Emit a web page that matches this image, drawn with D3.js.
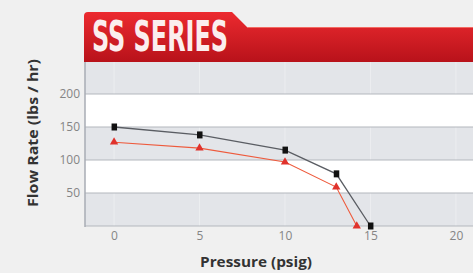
<!DOCTYPE html>
<html>
<head>
<meta charset="utf-8">
<script src="https://cdn.jsdelivr.net/npm/d3@7"></script>
<style>
  html, body { margin: 0; padding: 0; background: #f0f0f0; }
  svg { display: block; }
</style>
</head>
<body>
<div id="chart"></div>
<script>
// Data
var pressure = [0, 5, 10, 13, 15];
var blackFlow = [150, 138, 115, 79, 0];
var redPressure = [0, 5, 10, 13, 14.2];
var redFlow = [127, 118, 97, 59, 0];
var yTicks = [50, 100, 150, 200];
var xTicks = [0, 5, 10, 15, 20];
var bands = [[0, 50], [100, 150], [200, 250]];

var width = 473, height = 273;
var plot = { left: 85, right: 473, top: 62, bottom: 226 };

var svg = d3.select("#chart").append("svg")
    .attr("width", width)
    .attr("height", height);

var defs = svg.append("defs");
var grad = defs.append("linearGradient")
    .attr("id", "redGrad")
    .attr("x1", 0).attr("y1", 0).attr("x2", 0).attr("y2", 1);
grad.append("stop").attr("offset", "0%").attr("stop-color", "#ec2a2f");
grad.append("stop").attr("offset", "100%").attr("stop-color", "#b8121a");

// background
svg.append("rect").attr("width", width).attr("height", height).attr("fill", "#f0f0f0");

// Scales
var x = d3.scaleLinear().domain([-1.7, 21]).range([plot.left, plot.right]);
var y = d3.scaleLinear().domain([0, 250]).range([plot.bottom, plot.top - 1]);

// Plot area: white with grey bands
svg.append("rect")
    .attr("x", plot.left).attr("y", plot.top)
    .attr("width", plot.right - plot.left).attr("height", plot.bottom - plot.top)
    .attr("fill", "#ffffff");

svg.append("g").selectAll("rect")
    .data(bands)
    .join("rect")
    .attr("x", plot.left)
    .attr("y", function(d) { return Math.max(plot.top, y(d[1])); })
    .attr("width", plot.right - plot.left)
    .attr("height", function(d) { return y(d[0]) - Math.max(plot.top, y(d[1])); })
    .attr("fill", "#e3e5e9");

// faint vertical lines in grey bands
svg.append("g").selectAll("line")
    .data(xTicks)
    .join("line")
    .attr("x1", function(d) { return x(d); }).attr("x2", function(d) { return x(d); })
    .attr("y1", plot.top).attr("y2", plot.bottom)
    .attr("stroke", "#ffffff").attr("stroke-opacity", 0.35);

// Horizontal gridlines
svg.append("g").selectAll("line")
    .data(yTicks.concat([0]))
    .join("line")
    .attr("x1", plot.left).attr("x2", plot.right)
    .attr("y1", function(d) { return y(d); }).attr("y2", function(d) { return y(d); })
    .attr("stroke", "#b4b7bd").attr("stroke-width", 1.2);

// left axis line
svg.append("line")
    .attr("x1", plot.left).attr("x2", plot.left)
    .attr("y1", plot.top).attr("y2", plot.bottom + 1)
    .attr("stroke", "#a9adb4").attr("stroke-width", 1.5);

// Y axis
var yAxis = d3.axisLeft(y).tickValues(yTicks).tickSize(0).tickPadding(5);
var yG = svg.append("g").attr("transform", "translate(" + plot.left + ",0)").call(yAxis);
yG.select(".domain").remove();
yG.selectAll("text")
    .attr("fill", "#858585")
    .style("font-family", "'Open Sans', sans-serif")
    .style("font-size", "12px");

// X axis
var xAxis = d3.axisBottom(x).tickValues(xTicks).tickSize(0).tickPadding(5);
var xG = svg.append("g").attr("transform", "translate(0," + plot.bottom + ")").call(xAxis);
xG.select(".domain").remove();
xG.selectAll("text")
    .attr("fill", "#858585")
    .style("font-family", "'Open Sans', sans-serif")
    .style("font-size", "12px");

// Axis titles
svg.append("text")
    .attr("transform", "translate(38,133) rotate(-90)")
    .attr("text-anchor", "middle")
    .attr("textLength", 148)
    .attr("lengthAdjust", "spacingAndGlyphs")
    .attr("fill", "#333333")
    .style("font-family", "'Open Sans', sans-serif")
    .style("font-weight", "bold")
    .style("font-size", "13.5px")
    .text("Flow Rate (lbs / hr)");

svg.append("text")
    .attr("x", 256).attr("y", 267)
    .attr("text-anchor", "middle")
    .attr("textLength", 112)
    .attr("lengthAdjust", "spacingAndGlyphs")
    .attr("fill", "#333333")
    .style("font-family", "'Open Sans', sans-serif")
    .style("font-weight", "bold")
    .style("font-size", "13.5px")
    .text("Pressure (psig)");

// Series
var line = d3.line()
    .x(function(d) { return x(d[0]); })
    .y(function(d) { return y(d[1]); });

var blackData = d3.zip(pressure, blackFlow);
var redData = d3.zip(redPressure, redFlow);

svg.append("path")
    .datum(blackData)
    .attr("d", line)
    .attr("fill", "none")
    .attr("stroke", "#5a5d63")
    .attr("stroke-width", 1.3);

svg.append("path")
    .datum(redData)
    .attr("d", line)
    .attr("fill", "none")
    .attr("stroke", "#ee5a3c")
    .attr("stroke-width", 1.1);

svg.append("g").selectAll("path")
    .data(redData)
    .join("path")
    .attr("transform", function(d) { return "translate(" + x(d[0]) + "," + y(d[1]) + ")"; })
    .attr("d", d3.symbol(d3.symbolTriangle, 30))
    .attr("fill", "#e0322c");

svg.append("g").selectAll("rect")
    .data(blackData)
    .join("rect")
    .attr("x", function(d) { return x(d[0]) - 2.5; })
    .attr("y", function(d) { return y(d[1]) - 3.5; })
    .attr("width", 5.5).attr("height", 7)
    .attr("fill", "#111111");

// Header: red band with tab
var header = svg.append("g");
header.append("path")
    .attr("d", "M84,62 L84,16 Q84,12 88,12 L232,12 L247,27 L473,27 L473,62 Z")
    .attr("fill", "url(#redGrad)");
header.append("line")
    .attr("x1", 247).attr("x2", 473).attr("y1", 27.5).attr("y2", 27.5)
    .attr("stroke", "#f36a62").attr("stroke-width", 1);

header.append("text")
    .attr("x", 92).attr("y", 51)
    .attr("textLength", 136)
    .attr("lengthAdjust", "spacingAndGlyphs")
    .attr("fill", "#fbeeee")
    .style("font-family", "'DejaVu Sans Condensed', 'Liberation Sans Narrow', sans-serif")
    .style("font-weight", "bold")
    .style("font-size", "42px")
    .text("SS SERIES");
</script>
</body>
</html>
